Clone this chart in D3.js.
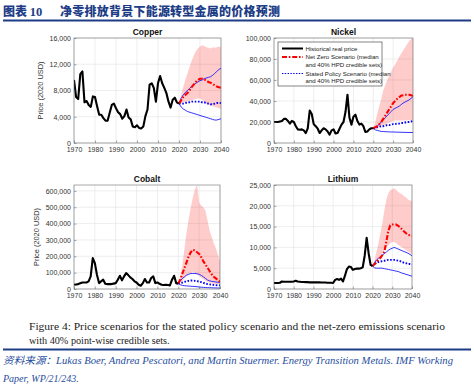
<!DOCTYPE html>
<html><head><meta charset="utf-8">
<script src="https://cdn.jsdelivr.net/npm/d3@7"></script>
<style>body{margin:0;background:#fff}svg{display:block}</style>
</head><body><svg id="c" width="474" height="390"></svg>
<script>
// ---------------- DATA (values in thousands of 2020 USD) ----------------
const histYears = d3.range(1970, 2021);
const fcYears = d3.range(2020, 2041);
const xTicks = [1970, 1980, 1990, 2000, 2010, 2020, 2030, 2040];

const copperHist = [9.6,7.0,6.7,10.5,10.9,6.2,6.4,5.8,5.5,7.1,7.0,5.6,4.3,4.3,3.8,3.4,3.4,4.6,5.8,6.0,5.3,4.7,4.4,3.7,4.1,5.1,3.9,3.6,2.5,2.4,2.7,2.3,2.2,2.5,4.1,5.1,8.9,9.1,8.4,6.3,9.1,10.2,9.1,8.4,7.6,6.3,5.4,6.6,6.9,6.2,6.0];
const copperNZ      = [6.0,6.5,7.0,7.3,7.6,8.0,8.5,8.9,9.3,9.6,9.8,9.8,9.7,9.5,9.3,9.2,9.0,8.8,8.6,8.5,8.4];
const copperNZHigh  = [6.0,7.3,8.5,9.6,10.6,11.6,12.5,13.3,14.0,14.4,14.7,14.9,14.8,14.6,14.5,14.4,14.6,14.5,14.6,14.7,14.6];
const copperNZLow   = [6.0,6.1,6.2,6.3,6.4,6.4,6.5,6.6,6.7,6.8,6.8,6.6,6.3,6.0,5.8,5.7,5.6,5.5,5.4,5.3,5.2];
const copperSP      = [6.0,6.0,6.0,6.1,6.2,6.2,6.3,6.3,6.3,6.3,6.3,6.2,6.2,6.1,6.0,5.9,5.9,6.0,6.1,6.1,6.1];
const copperSPHigh  = [6.0,6.8,7.3,7.7,8.0,8.3,8.6,8.9,9.1,9.3,9.5,9.6,9.8,9.9,10.0,10.1,10.3,10.6,10.9,11.2,11.4];
const copperSPLow   = [6.0,5.5,5.2,5.0,4.8,4.7,4.6,4.5,4.4,4.3,4.2,4.1,4.0,3.9,3.8,3.7,3.6,3.5,3.5,3.6,3.7];

const nickelHist = [20,20,20,20.5,21,23,23,21,18.5,21,20,16,13,12.7,13,12,9.5,14,31,27.6,18,16,13.6,9.5,12,14,13,11,8,12,13,9,9.5,13.6,17.5,20,29.5,46,24,17.5,25,27,21,17.5,18.5,16,10.5,11,13,14,14];
const nickelNZ     = [14,15,16,18,20,23,26,29,32,35,38,40,42,43.5,45,45.5,46,46,46,45.5,45];
const nickelNZHigh = [14,20,28,35,42,50,55,60,64,68,72,75,78,82,85,88,91,94,97,99,100];
const nickelNZLow  = [14,14.5,15,16,16.5,17,17.5,18.5,19.5,20,21,21.5,21.5,21.5,21.5,21.5,21.5,21.7,22,22,22];
const nickelSP     = [14,14.5,15,15.5,16,16,16.5,17,17,17.5,18,18,18.5,18.5,19,19,19.5,20,20,20.5,21];
const nickelSPHigh = [14,15,16,18,20,22,24,26,28,30,32,33,34,35,36.5,38,39,40,41,42.5,44];
const nickelSPLow  = [14,12.5,12,11.5,11,11,10.8,10.7,10.6,10.5,10.5,10.4,10.3,10.3,10.2,10.2,10.1,10.1,10,10,10];

const cobaltHist = [26,28,30,35,40,40,40,47,77,189,158,87,36,47,57,32,30,30,30,33,36,57,81,53,77,97,85,71,61,47,40,26,20,36,61,40,40,67,77,36,40,32,26,24,26,24,22,57,81,36,33];
const cobaltNZ     = [33,60,95,130,165,200,225,240,235,225,215,195,170,150,130,110,90,75,65,55,45];
const cobaltNZHigh = [33,80,150,250,350,430,500,560,610,636,530,510,500,480,420,360,320,280,250,210,170];
const cobaltNZLow  = [33,40,50,65,80,90,95,105,100,90,80,70,60,50,45,40,35,32,30,30,30];
const cobaltSP     = [33,37,40,44,48,50,52,52,50,48,45,42,38,34,30,28,26,25,24,23,22];
const cobaltSPHigh = [33,50,65,75,85,90,95,95,95,93,90,83,75,65,55,50,47,45,43,41,40];
const cobaltSPLow  = [33,26,22,20,19,18,17,16,15,14,12,11,10,9,8.5,8,7.5,7,6.5,6,6];

const lithiumHist = [1.45,1.45,1.45,1.5,1.8,1.75,1.75,1.75,1.75,1.75,1.8,2.0,1.8,1.75,1.7,1.7,1.65,1.65,1.6,1.6,1.6,1.6,1.6,1.6,1.55,1.55,1.55,1.5,1.5,1.5,1.45,2.2,2.4,2.2,2.5,1.8,3.2,4.8,5.4,5.3,4.6,4.8,4.9,4.9,5.0,5.2,8.0,12.3,8.6,5.8,5.5];
const lithiumNZ     = [5.5,6.0,6.5,7.0,7.5,8.2,9.0,11.4,14.0,15.3,15.5,15.5,15.5,15.2,14.8,14.3,13.8,13.4,13.0,12.9,12.8];
const lithiumNZHigh = [5.5,7,9,11,13.5,16,19,21.5,23,23.8,24.0,24.2,23.8,23.3,23.0,22.8,22.3,22.0,21.5,21.3,21.2];
const lithiumNZLow  = [5.5,6.0,6.5,7.2,8.0,8.8,9.5,10.0,10.5,11.0,11.3,11.3,11.0,10.6,10.3,10.0,9.7,9.3,9.0,8.7,8.5];
const lithiumSP     = [5.5,6.0,6.3,6.5,6.6,6.7,6.8,6.9,7.0,7.0,7.0,7.0,6.9,6.8,6.7,6.5,6.3,6.2,6.0,6.0,5.9];
const lithiumSPHigh = [5.5,6.3,7.0,7.4,7.8,8.2,8.5,8.9,9.3,9.6,9.8,10.0,9.8,9.6,9.4,9.2,9.0,8.8,8.6,8.3,8.0];
const lithiumSPLow  = [5.5,5.1,5.0,5.0,5.0,5.0,4.9,4.8,4.7,4.6,4.5,4.4,4.3,4.2,4.0,3.8,3.7,3.5,3.4,3.2,3.1];

const copperTicks = [0,4000,8000,12000,16000];
const nickelTicks = [0,20000,40000,60000,80000,100000];
const cobaltTicks = [0,100000,200000,300000,400000,500000,600000];
const lithiumTicks = [0,5000,10000,15000,20000,25000];

const legendLabels = [["Historical real price"],["Net Zero Scenario (median","and 40% HPD credible sets)"],["Stated Policy Scenario (median","and 40% HPD credible sets)"]];
const UNIT = 1000;

// ---------------- DRAW ----------------
const svg = d3.select("#c");
const SANS = "Liberation Sans, Arial, sans-serif";
const NAVY = "#1d3d86";

// header
const head = svg.append("text").attr("x", 3).attr("y", 15.5)
  .attr("fill", NAVY).attr("font-weight", 900).attr("font-size", 12)
  .attr("font-family", "Noto Sans CJK SC");
head.append("tspan").text("图表 ");
head.append("tspan").attr("font-family", "Liberation Serif").attr("font-weight", "bold").attr("font-size", 12.5).text("10");
svg.append("text").attr("x", 60).attr("y", 15.5).attr("fill", NAVY)
  .attr("font-weight", 900).attr("font-size", 12).attr("font-family", "Noto Sans CJK SC")
  .attr("textLength", 220).attr("lengthAdjust", "spacing")
  .text("净零排放背景下能源转型金属的价格预测");
svg.append("rect").attr("x", 3).attr("y", 19.5).attr("width", 468).attr("height", 2).attr("fill", NAVY);

const panels = [
  {title:"Copper", x0:74, x1:221, y0:38, y1:143, yMax:16000, ticks:copperTicks, ylabel:true, labX:43,
   hist:copperHist, nz:copperNZ, nzH:copperNZHigh, nzL:copperNZLow, sp:copperSP, spH:copperSPHigh, spL:copperSPLow},
  {title:"Nickel", x0:274, x1:413, y0:38, y1:143, yMax:100000, ticks:nickelTicks, legend:true,
   hist:nickelHist, nz:nickelNZ, nzH:nickelNZHigh, nzL:nickelNZLow, sp:nickelSP, spH:nickelSPHigh, spL:nickelSPLow},
  {title:"Cobalt", x0:74, x1:220, y0:185, y1:289, yMax:636000, ticks:cobaltTicks, ylabel:true, labX:39,
   hist:cobaltHist, nz:cobaltNZ, nzH:cobaltNZHigh, nzL:cobaltNZLow, sp:cobaltSP, spH:cobaltSPHigh, spL:cobaltSPLow},
  {title:"Lithium", x0:274, x1:412, y0:185, y1:289, yMax:25000, ticks:lithiumTicks,
   hist:lithiumHist, nz:lithiumNZ, nzH:lithiumNZHigh, nzL:lithiumNZLow, sp:lithiumSP, spH:lithiumSPHigh, spL:lithiumSPLow}
];

panels.forEach((p, i) => {
  const x = d3.scaleLinear().domain([1970, 2040]).range([p.x0, p.x1]);
  const y = d3.scaleLinear().domain([0, p.yMax]).range([p.y1, p.y0]);
  const g = svg.append("g");
  const cid = "clip" + i;
  svg.append("clipPath").attr("id", cid).append("rect")
    .attr("x", p.x0).attr("y", p.y0).attr("width", p.x1 - p.x0).attr("height", p.y1 - p.y0);

  // grid
  g.append("g").selectAll("line").data(xTicks).join("line")
    .attr("x1", d => x(d)).attr("x2", d => x(d)).attr("y1", p.y0).attr("y2", p.y1)
    .attr("stroke", "#e3e3e3").attr("stroke-width", 0.6);
  g.append("g").selectAll("line").data(p.ticks).join("line")
    .attr("x1", p.x0).attr("x2", p.x1).attr("y1", d => y(d)).attr("y2", d => y(d))
    .attr("stroke", "#e3e3e3").attr("stroke-width", 0.6);

  const plot = g.append("g").attr("clip-path", `url(#${cid})`);
  // net-zero credible band
  const area = d3.area().x((d, j) => x(fcYears[j])).y0((d, j) => y(p.nzL[j] * UNIT)).y1(d => y(d * UNIT));
  plot.append("path").datum(p.nzH).attr("d", area).attr("fill", "#ff0000").attr("fill-opacity", 0.2);

  const line = d3.line().x((d, j) => x(fcYears[j])).y(d => y(d * UNIT));
  // stated policy bounds (thin) & median (dotted)
  [p.spH, p.spL].forEach(s => plot.append("path").datum(s).attr("d", line)
    .attr("fill", "none").attr("stroke", "#1a1aff").attr("stroke-width", 0.9));
  plot.append("path").datum(p.sp).attr("d", line).attr("fill", "none")
    .attr("stroke", "#0000ff").attr("stroke-width", 1.9).attr("stroke-dasharray", "1.6,1.6");
  // net zero median
  plot.append("path").datum(p.nz).attr("d", line).attr("fill", "none")
    .attr("stroke", "#ff0000").attr("stroke-width", 2.1).attr("stroke-dasharray", "5,1.8,1.6,1.8");
  // history
  const hline = d3.line().x((d, j) => x(histYears[j])).y(d => y(d * UNIT));
  plot.append("path").datum(p.hist).attr("d", hline).attr("fill", "none")
    .attr("stroke", "#000").attr("stroke-width", 2.1).attr("stroke-linejoin", "round");

  // axes
  const ax = g.append("g").attr("transform", `translate(0,${p.y1})`)
    .call(d3.axisBottom(x).tickValues(xTicks).tickFormat(d3.format("d")).tickSizeInner(-2.5).tickSizeOuter(0).tickPadding(4));
  const ay = g.append("g").attr("transform", `translate(${p.x0},0)`)
    .call(d3.axisLeft(y).tickValues(p.ticks).tickFormat(d3.format(",")).tickSizeInner(-2.5).tickSizeOuter(0).tickPadding(3));
  [ax, ay].forEach(a => {
    a.select(".domain").remove();
    a.selectAll("line").attr("stroke", "#555").attr("stroke-width", 0.5);
    a.selectAll("text").attr("font-family", SANS).attr("font-size", 7).attr("fill", "#333");
  });
  g.append("rect").attr("x", p.x0).attr("y", p.y0).attr("width", p.x1 - p.x0).attr("height", p.y1 - p.y0)
    .attr("fill", "none").attr("stroke", "#707070").attr("stroke-width", 0.6);

  g.append("text").attr("x", (p.x0 + p.x1) / 2).attr("y", p.y0 - 3.5).attr("text-anchor", "middle")
    .attr("font-family", SANS).attr("font-weight", "bold").attr("font-size", 8.5).attr("fill", "#111").text(p.title);

  if (p.ylabel) {
    g.append("text").attr("transform", `translate(${p.labX},${(p.y0 + p.y1) / 2}) rotate(-90)`)
      .attr("text-anchor", "middle").attr("font-family", SANS).attr("font-size", 7.4).attr("fill", "#333")
      .text("Price (2020 USD)");
  }

  if (p.legend) {
    const lg = g.append("g");
    lg.append("rect").attr("x", 278).attr("y", 42).attr("width", 104).attr("height", 44)
      .attr("fill", "#fff").attr("stroke", "#333").attr("stroke-width", 0.6);
    const styles = [
      {stroke:"#000", w:2, dash:null},
      {stroke:"#ff0000", w:2, dash:"5,1.8,1.6,1.8"},
      {stroke:"#0000ff", w:1.2, dash:"1.4,1.4"}
    ];
    const rowsY = [[48.5], [57, 64.5], [73.5, 81]];
    legendLabels.forEach((lab, k) => {
      lg.append("line").attr("x1", 282).attr("x2", 303).attr("y1", rowsY[k][0]).attr("y2", rowsY[k][0])
        .attr("stroke", styles[k].stroke).attr("stroke-width", styles[k].w)
        .attr("stroke-dasharray", styles[k].dash);
      lab.forEach((t, m) => lg.append("text").attr("x", 305.5).attr("y", rowsY[k][m] + 2.1)
        .attr("font-family", SANS).attr("font-size", 6.1).attr("fill", "#222").text(t));
    });
  }
});

// caption
const SERIF = "Liberation Serif, DejaVu Serif, serif";
svg.append("text").attr("x", 29).attr("y", 330).attr("font-family", SERIF).attr("font-size", 10.2)
  .attr("fill", "#222").attr("textLength", 416).attr("lengthAdjust", "spacingAndGlyphs")
  .text("Figure 4: Price scenarios for the stated policy scenario and the net-zero emissions scenario");
svg.append("text").attr("x", 29).attr("y", 343.5).attr("font-family", SERIF).attr("font-size", 10.2)
  .attr("fill", "#222").text("with 40% point-wise credible sets.");
svg.append("rect").attr("x", 3).attr("y", 348.5).attr("width", 468).attr("height", 2).attr("fill", NAVY);

const SRC = "#1f4ea0";
const s1 = svg.append("text").attr("x", 3).attr("y", 364).attr("font-size", 10).attr("fill", SRC)
  .attr("font-style", "italic").attr("textLength", 450).attr("lengthAdjust", "spacingAndGlyphs");
s1.append("tspan").attr("font-family", "Noto Sans CJK SC").text("资料来源：");
s1.append("tspan").attr("font-family", SERIF)
  .text("Lukas Boer, Andrea Pescatori, and Martin Stuermer. Energy Transition Metals. IMF Working");
svg.append("text").attr("x", 3).attr("y", 382).attr("font-size", 10).attr("fill", SRC)
  .attr("font-style", "italic").attr("font-family", SERIF).text("Paper, WP/21/243.");
</script></body></html>
